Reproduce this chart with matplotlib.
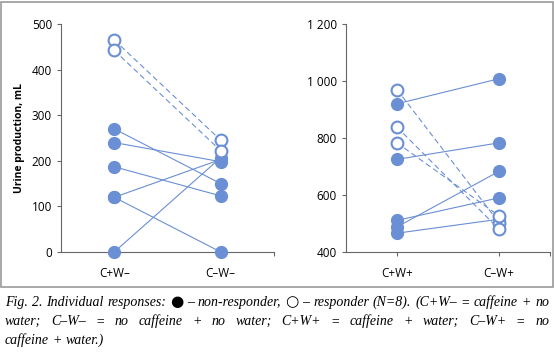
import matplotlib
matplotlib.use("Agg")
import matplotlib.pyplot as plt
from matplotlib.patches import Rectangle
from matplotlib.ticker import FixedLocator, FuncFormatter

# left panel: no water
left_cats = ["C+W\u2013", "C\u2013W\u2013"]
left_non_before = [270, 240, 187, 120, 120, 0]
left_non_after = [150, 198, 123, 203, 0, 207]
left_resp_before = [465, 442]
left_resp_after = [245, 222]

# right panel: water
right_cats = ["C+W+", "C\u2013W+"]
right_non_before = [920, 725, 511, 488, 466]
right_non_after = [1008, 783, 590, 683, 515]
right_resp_before = [970, 838, 783]
right_resp_after = [503, 480, 527]

blue = "#6b8fd4"
axis_col = "#666666"

fig = plt.figure(figsize=(5.54, 3.55), dpi=100)
W, H = 554, 355

# gray frame around charts
fig.patches.append(Rectangle((1 / W, 1 - 287 / H), 552 / W, 285 / H,
                             transform=fig.transFigure, fill=False,
                             edgecolor="#999999", linewidth=1.2))

ax1 = fig.add_axes([61 / W, 103 / H, 213 / W, 228 / H])
ax2 = fig.add_axes([346 / W, 103 / H, 204 / W, 228 / H])


def draw_panel(ax, cats, nb, na, rb, ra, ylim, yticks):
    for a, b in zip(nb, na):
        ax.plot([0, 1], [a, b], color=blue, lw=0.8, zorder=2)
    for a, b in zip(rb, ra):
        ax.plot([0, 1], [a, b], color=blue, lw=0.8, ls=(0, (5, 3)), zorder=2)
    ax.plot([0] * len(nb), nb, "o", color=blue, ms=8.5, mec=blue, zorder=3, clip_on=False)
    ax.plot([1] * len(na), na, "o", color=blue, ms=8.5, mec=blue, zorder=3, clip_on=False)
    ax.plot([0] * len(rb), rb, "o", mfc="white", mec=blue, mew=1.5, ms=8.5, zorder=4, clip_on=False)
    ax.plot([1] * len(ra), ra, "o", mfc="white", mec=blue, mew=1.5, ms=8.5, zorder=4, clip_on=False)
    ax.set_xlim(-0.5, 1.5)
    ax.set_ylim(*ylim)
    ax.set_yticks(yticks)
    ax.yaxis.set_major_formatter(FuncFormatter(lambda v, p: f"{int(v):,}".replace(",", " ")))
    ax.set_xticks([0, 1])
    ax.set_xticklabels(cats)
    ax.xaxis.set_minor_locator(FixedLocator([1.5]))
    for s in ["top", "right"]:
        ax.spines[s].set_visible(False)
    for s in ["left", "bottom"]:
        ax.spines[s].set_color(axis_col)
        ax.spines[s].set_linewidth(0.8)
    ax.tick_params(axis="both", which="both", colors=axis_col, width=0.8, length=3,
                   labelsize=8.5, labelcolor="black")
    ax.tick_params(axis="x", pad=8)
    for lab in ax.get_xticklabels() + ax.get_yticklabels():
        lab.set_family("Open Sans")


draw_panel(ax1, left_cats, left_non_before, left_non_after, left_resp_before,
           left_resp_after, (0, 500), range(0, 501, 100))
draw_panel(ax2, right_cats, right_non_before, right_non_after, right_resp_before,
           right_resp_after, (400, 1200), range(400, 1201, 200))

ax1.set_ylabel("Urine production, mL", fontsize=7.5, fontweight="bold", family="Open Sans",
               labelpad=5)

# caption, justified by hand
cap_font = dict(fontsize=10, style="italic", family=["Liberation Serif", "DejaVu Serif"])
sym_font = dict(fontsize=11, family="DejaVu Sans")
lines = [
    ("Fig. 2. Individual responses: \u25cf \u2013 non-responder, \u25cb \u2013 responder (N=8). "
     "(C+W\u2013 = caffeine + no", True),
    ("water; C\u2013W\u2013 = no caffeine + no water; C+W+ = caffeine + water; C\u2013W+ = no", True),
    ("caffeine + water.)", False),
]

fig.canvas.draw()
renderer = fig.canvas.get_renderer()
x0, x1 = 5, 549
ys = [306, 325, 344]
sp = fig.text(0, 0, "a a", **cap_font)
nsp = fig.text(0, 0, "aa", **cap_font)
space_w = sp.get_window_extent(renderer).width - nsp.get_window_extent(renderer).width
sp.remove()
nsp.remove()
for (txt, justify), y in zip(lines, ys):
    words = txt.split(" ")
    arts = []
    for w in words:
        f = sym_font if w in ("\u25cf", "\u25cb") else cap_font
        arts.append(fig.text(0, 1 - y / H, w, va="baseline", ha="left", **f))
    widths = [a.get_window_extent(renderer).width for a in arts]
    if justify and len(words) > 1:
        gap = (x1 - x0 - sum(widths)) / (len(words) - 1)
    else:
        gap = space_w
    x = x0
    for a, w in zip(arts, widths):
        a.set_x(x / W)
        x += w + gap

fig.savefig("out.png", dpi=100)
